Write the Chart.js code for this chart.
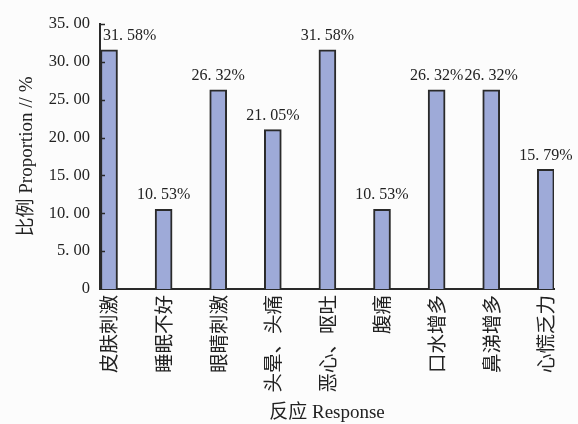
<!DOCTYPE html>
<html>
<head>
<meta charset="utf-8">
<script src="https://cdn.jsdelivr.net/npm/chart.js@4"></script>
<style>
  html, body { margin: 0; padding: 0; background: #fcfcfc; }
  #wrap { width: 578px; height: 424px; }
</style>
</head>
<body>
<div id="wrap"><canvas id="chart" width="578" height="424"></canvas></div>
<script>
var categories = ['皮肤刺激', '睡眠不好', '眼睛刺激', '头晕、头痛', '恶心、呕吐', '腹痛', '口水增多', '鼻涕增多', '心慌乏力'];
var proportions = [31.58, 10.53, 26.32, 21.05, 31.58, 10.53, 26.32, 26.32, 15.79];
var yTicks = [0, 5, 10, 15, 20, 25, 30, 35];

var serif = "'Liberation Serif', 'Noto Sans CJK SC', serif";
var ink = '#222222';

function fmt(v) {
    // source uses a spaced decimal point, e.g. "31. 58"
    return v.toFixed(2).replace('.', '. ');
}

var points = proportions.map(function(v, i) { return { x: i, y: v }; });

var valueLabels = {
    id: 'valueLabels',
    afterDatasetsDraw: function(chart) {
        var ctx = chart.ctx;
        var meta = chart.getDatasetMeta(0);
        ctx.save();
        ctx.font = '16px ' + serif;
        ctx.fillStyle = ink;
        ctx.textBaseline = 'bottom';
        meta.data.forEach(function(bar, i) {
            var text = fmt(proportions[i]) + '%';
            if (i == 0) {
                ctx.textAlign = 'left';
                ctx.fillText(text, bar.x - 6, bar.y - 6);
            } else {
                ctx.textAlign = 'center';
                ctx.fillText(text, bar.x, bar.y - 6);
            }
        });
        ctx.restore();
    }
};

var inwardTicks = {
    id: 'inwardTicks',
    afterDraw: function(chart) {
        var ctx = chart.ctx;
        var y = chart.scales.y;
        var left = chart.chartArea.left;
        ctx.save();
        ctx.strokeStyle = '#2a2a2a';
        ctx.lineWidth = 1.5;
        yTicks.forEach(function(t) {
            if (t == 0) return;
            var py = Math.round(y.getPixelForValue(t)) + 0.5;
            ctx.beginPath();
            ctx.moveTo(left, py);
            ctx.lineTo(left + 5, py);
            ctx.stroke();
        });
        ctx.restore();
    }
};

new Chart(document.getElementById('chart').getContext('2d'), {
    type: 'bar',
    data: {
        datasets: [{
            data: points,
            backgroundColor: '#9eaad8',
            borderColor: '#2a2a2a',
            borderWidth: 2,
            barThickness: 17
        }]
    },
    options: {
        responsive: false,
        animation: false,
        layout: { padding: { top: 24, right: 24, left: 0, bottom: 0 } },
        plugins: {
            legend: { display: false },
            tooltip: { enabled: false }
        },
        scales: {
            x: {
                type: 'linear',
                offset: false,
                min: -0.165,
                max: 8.15,
                grid: { display: false, drawTicks: false },
                border: { display: true, color: '#2a2a2a', width: 2 },
                afterFit: function(scale) { scale.height = 135; },
                afterBuildTicks: function(scale) {
                    scale.ticks = categories.map(function(c, i) { return { value: i }; });
                },
                ticks: {
                    autoSkip: false,
                    minRotation: 90,
                    maxRotation: 90,
                    padding: 6,
                    color: ink,
                    font: { family: "'Noto Sans CJK SC', sans-serif", size: 19.5 },
                    callback: function(v) { return categories[v] || ''; }
                },
                title: {
                    display: true,
                    text: '反应 Response',
                    color: ink,
                    font: { family: serif, size: 19 },
                    padding: { top: 0, bottom: 0 }
                }
            },
            y: {
                min: 0,
                max: 35,
                grid: { display: false, drawTicks: false },
                border: { display: true, color: '#2a2a2a', width: 2 },
                afterFit: function(scale) { scale.width = 100; },
                afterBuildTicks: function(scale) {
                    scale.ticks = yTicks.map(function(t) { return { value: t }; });
                },
                ticks: {
                    padding: 10,
                    color: ink,
                    font: { family: serif, size: 16.5 },
                    callback: function(v) { return v == 0 ? '0' : fmt(v); }
                },
                title: {
                    display: true,
                    text: '比例 Proportion // %',
                    color: ink,
                    font: { family: serif, size: 19 },
                    padding: { top: 16, bottom: 0 }
                }
            }
        }
    },
    plugins: [valueLabels, inwardTicks]
});
</script>
</body>
</html>
